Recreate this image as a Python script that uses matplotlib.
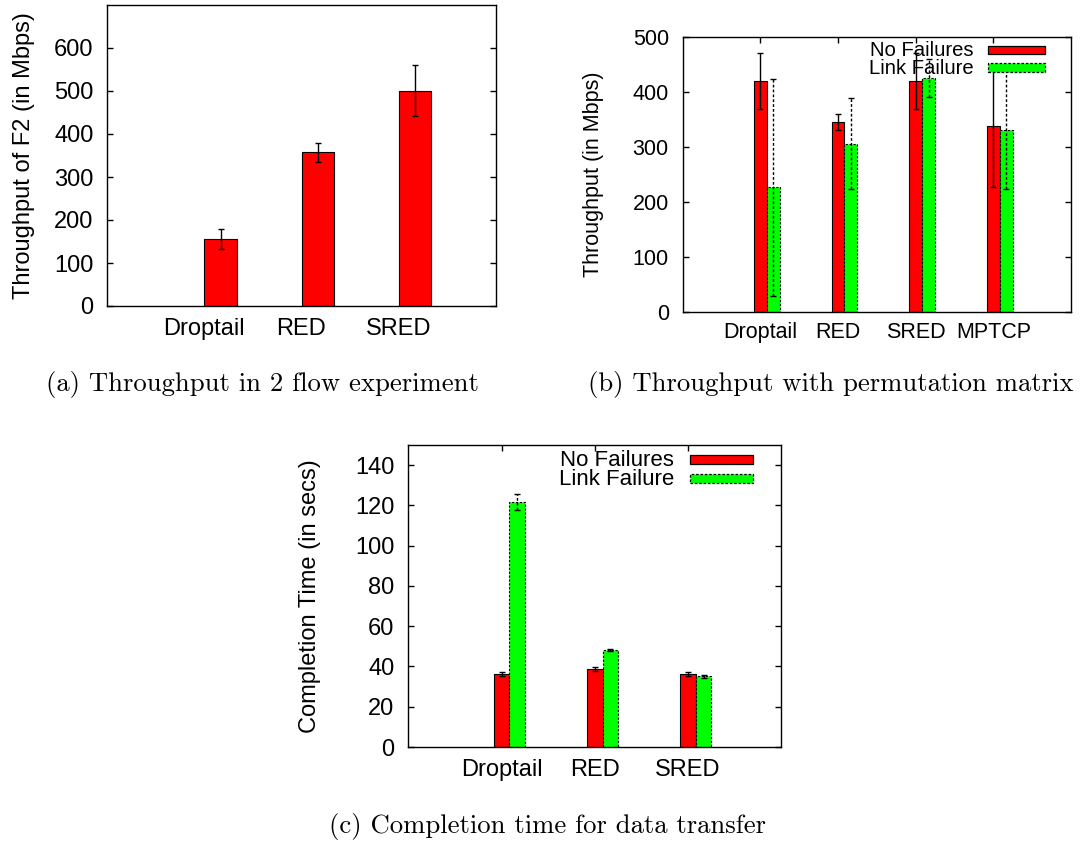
import matplotlib
matplotlib.use('Agg')
import matplotlib.pyplot as plt
from matplotlib.patches import Rectangle
import numpy as np

plt.rcParams['font.family'] = ['Liberation Sans', 'DejaVu Sans']
plt.rcParams['axes.unicode_minus'] = False

W, H = 1080, 843

# ---------------- data ----------------
# (a) Throughput of F2 in 2 flow experiment
a_categories = ['Droptail', 'RED', 'SRED']
a_throughput = [155, 357, 501]
a_err = [23, 23, 60]

# (b) Throughput with permutation matrix
b_categories = ['Droptail', 'RED', 'SRED', 'MPTCP']
b_no_fail = [419, 345, 419, 337]
b_no_fail_err = [51, 15, 51, 111]
b_link_fail = [226, 306, 425, 331]
b_link_fail_err = [197, 82, 35, 108]

# (c) Completion time for data transfer
c_categories = ['Droptail', 'RED', 'SRED']
c_no_fail = [36.2, 38.8, 36.2]
c_no_fail_err = [1.0, 1.0, 1.0]
c_link_fail = [121.6, 48.3, 35.2]
c_link_fail_err = [4.1, 0.4, 0.8]

series_labels = ['No Failures', 'Link Failure']
captions = ['(a) Throughput in 2 flow experiment',
            '(b) Throughput with permutation matrix',
            '(c) Completion time for data transfer']

RED = '#ff0000'
GREEN = '#00ff00'
DASH = (0, (2.0, 1.5))


def axes_rect(l, t, r, b):
    return [l / W, 1 - b / H, (r - l) / W, (b - t) / H]


def style(ax, fs, top_ticks, xpad):
    for s in ax.spines.values():
        s.set_linewidth(1.0)
    ax.tick_params(axis='y', direction='in', left=True, right=True,
                   length=4, width=1, pad=10, labelsize=fs)
    ax.tick_params(axis='x', direction='in', bottom=False, top=top_ticks,
                   length=4, width=1, pad=xpad, labelsize=fs)


def bars_pair(ax, cats, v1, e1, v2, e2, width):
    x = np.arange(len(cats))
    ax.bar(x, v1, width, color=RED, edgecolor='black', linewidth=0.8, zorder=2)
    ax.bar(x + width, v2, width, color=GREEN, edgecolor='black',
           linewidth=0.8, linestyle=DASH, zorder=2)
    ax.errorbar(x, v1, yerr=e1, fmt='none', ecolor='black', elinewidth=1.0,
                capsize=2, capthick=1.0, zorder=3)
    eb = ax.errorbar(x + width, v2, yerr=e2, fmt='none', ecolor='black',
                     elinewidth=1.0, capsize=2, capthick=1.0, zorder=3)
    eb[2][0].set_linestyle(DASH)
    ax.set_xticks(x)
    ax.set_xticklabels(cats)
    ax.set_xlim(-1, len(cats))


def draw_key(ax, fs, text_x, bx0, bx1, text_y, box_y, box_h):
    fcs = [RED, GREEN]
    lss = ['-', DASH]
    for ty, by, lab, fc, ls in zip(text_y, box_y, series_labels, fcs, lss):
        ax.text(text_x, ty, lab, transform=ax.transAxes, ha='right',
                va='center', fontsize=fs, zorder=6)
        ax.add_patch(Rectangle((bx0, by - box_h / 2), bx1 - bx0, box_h,
                               transform=ax.transAxes, facecolor=fc,
                               edgecolor='black', linestyle=ls, lw=0.9,
                               zorder=6, clip_on=False))


fig = plt.figure(figsize=(W / 100, H / 100), dpi=100)

# ---------------- (a) ----------------
axa = fig.add_axes(axes_rect(107.3, 5, 495.7, 306))
xa = np.arange(len(a_categories))
wa = 1 / 3
axa.bar(xa + wa / 2, a_throughput, wa, color=RED, edgecolor='black',
        linewidth=0.8, zorder=2)
axa.errorbar(xa + wa / 2, a_throughput, yerr=a_err, fmt='none',
             ecolor='black', elinewidth=1.0, capsize=2, capthick=1.0, zorder=3)
axa.set_xticks(xa)
axa.set_xticklabels(a_categories)
axa.set_xlim(-1, len(a_categories))
axa.set_ylim(0, 700)
axa.set_yticks(np.arange(0, 700, 100))
style(axa, 17, False, 8.5)
axa.set_ylabel('Throughput of F2 (in Mbps)', fontsize=17, va='center')
axa.yaxis.set_label_coords(-0.2145, 0.5)

# ---------------- (b) ----------------
axb = fig.add_axes(axes_rect(682.7, 37, 1071, 311.5))
bars_pair(axb, b_categories, b_no_fail, b_no_fail_err, b_link_fail,
          b_link_fail_err, 1 / 6)
axb.set_ylim(0, 500)
axb.set_yticks(np.arange(0, 501, 100))
style(axb, 15.5, True, 7.5)
axb.set_ylabel('Throughput (in Mbps)', fontsize=15.5, va='center')
axb.yaxis.set_label_coords(-0.2302, 0.5)
draw_key(axb, 14.6, 0.750, 0.786, 0.933, [0.9526, 0.887], [0.9526, 0.889],
         0.0313)

# ---------------- (c) ----------------
axc = fig.add_axes(axes_rect(408.3, 445, 781.3, 747))
bars_pair(axc, c_categories, c_no_fail, c_no_fail_err, c_link_fail,
          c_link_fail_err, 1 / 6)
axc.set_ylim(0, 150)
axc.set_yticks(np.arange(0, 141, 20))
style(axc, 17, True, 8.9)
axc.set_ylabel('Completion Time (in secs)', fontsize=17, va='center')
axc.yaxis.set_label_coords(-0.2635, 0.5)
draw_key(axc, 16, 0.712, 0.755, 0.923, [0.9487, 0.8858], [0.952, 0.8891],
         0.0298)

# ---------------- captions ----------------
cap_pos = [(262, 384), (831, 384), (547.5, 827)]
for (cx, cy), txt in zip(cap_pos, captions):
    fig.text(cx / W, 1 - cy / H, txt, ha='center', va='center',
             fontsize=19.2, family=['cmr10', 'DejaVu Serif'])

fig.savefig('out.png', dpi=100)
